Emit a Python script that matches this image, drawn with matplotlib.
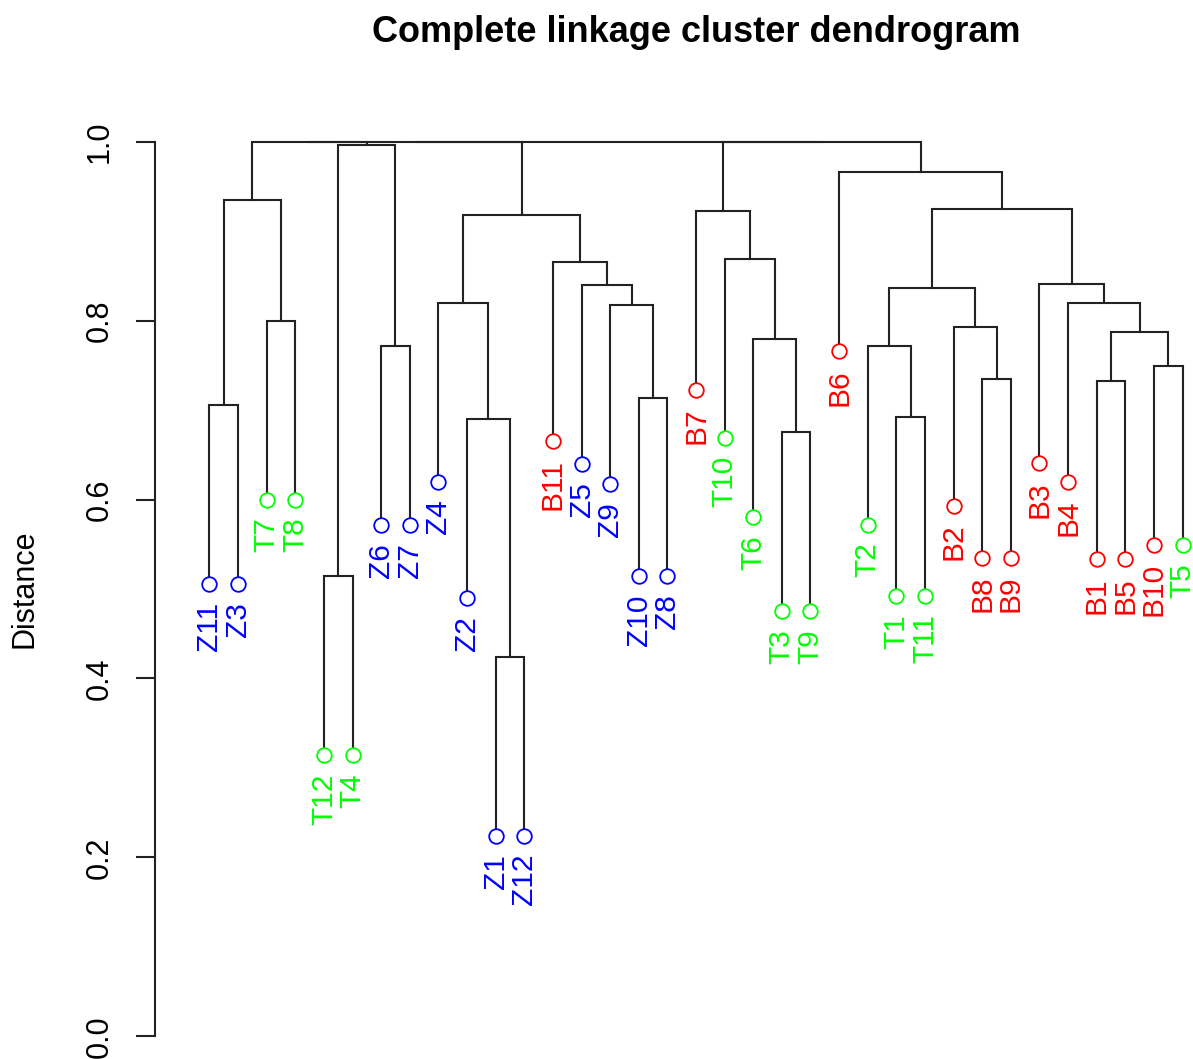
import matplotlib.pyplot as plt

plt.rcParams['font.family'] = ['Liberation Sans', 'DejaVu Sans']

# leaf order as it appears along the x axis
leaves = ["Z11", "Z3", "T7", "T8", "T12", "T4", "Z6", "Z7", "Z4", "Z2",
          "Z1", "Z12", "B11", "Z5", "Z9", "Z10", "Z8", "B7", "T10", "T6",
          "T3", "T9", "B6", "T2", "T1", "T11", "B2", "B8", "B9", "B3",
          "B4", "B1", "B5", "B10", "T5"]

# merge table: a name is a leaf, a number is an earlier merge (1-based)
merge_left = ["Z11", "T7", 1, "T12", "Z6", 4, "Z1", "Z2", "Z4", "Z10",
              "Z9", "Z5", "B11", 9, "T3", "T6", "T10", "B7", "T1", "T2",
              "B8", "B2", 20, "B1", "B10", 24, "B4", "B3", 23, "B6",
              3, 31, 18, 32]
merge_right = ["Z3", "T8", 2, "T4", "Z7", 5, "Z12", 7, 8, "Z8",
               10, 11, 12, 13, "T9", 15, 16, 17, "T11", 19,
               "B9", 21, 22, "B5", "T5", 25, 26, 27, 28, 29,
               6, 14, 30, 33]
merge_height = [0.706, 0.800, 0.935, 0.514, 0.772, 0.996, 0.424, 0.690, 0.820, 0.714,
                0.817, 0.840, 0.866, 0.918, 0.675, 0.780, 0.869, 0.923, 0.692, 0.772,
                0.735, 0.793, 0.837, 0.733, 0.749, 0.787, 0.820, 0.841, 0.925, 0.966,
                1.0, 1.0, 1.0, 1.0]

group_colors = {"Z": "#0000FF", "T": "#00FF00", "B": "#FF0000"}
HANG = 0.2

fig = plt.figure(figsize=(11.93, 10.59), dpi=100)
ax = fig.add_axes([155 / 1193, -13 / 1059, 1082 / 1193, 966 / 1059])

leaf_x = {name: i + 1 for i, name in enumerate(leaves)}
node_x = []
node_h = []
leaf_pts = []

for a, b, h in zip(merge_left, merge_right, merge_height):
    ends = []
    for c in (a, b):
        if isinstance(c, str):
            x, ch = leaf_x[c], h - HANG
            leaf_pts.append((c, x, ch))
        else:
            x, ch = node_x[c - 1], node_h[c - 1]
        ends.append((x, ch))
    (xa, ha), (xb, hb) = ends
    ax.plot([xa, xa, xb, xb], [ha, h, h, hb], color="#222222", lw=1.5,
            solid_joinstyle="miter", zorder=2)
    node_x.append((xa + xb) / 2)
    node_h.append(h)

for name, x, y in leaf_pts:
    col = group_colors[name[0]]
    ax.plot(x, y, "o", mfc="white", mec=col, ms=10.5, mew=1.3, zorder=3)
    ax.annotate(name, (x, y), xytext=(0, -13), textcoords="offset points",
                rotation=90, ha="center", va="top", color=col, fontsize=21.5)

ax.set_xlim(-0.9, 36.9)
ax.set_ylim(-0.04, 1.04)
for s in ("top", "right", "bottom"):
    ax.spines[s].set_visible(False)
ax.spines["left"].set_bounds(0, 1)
ax.spines["left"].set_linewidth(1.5)
ax.spines["left"].set_color("#222222")
ax.set_xticks([])
ax.set_yticks([0.0, 0.2, 0.4, 0.6, 0.8, 1.0])
ax.set_yticklabels(["0.0", "0.2", "0.4", "0.6", "0.8", "1.0"],
                   rotation=90, va="center", fontsize=22)
ax.tick_params(axis="y", direction="out", length=14, width=1.5,
               color="#222222", pad=15)
ax.set_ylabel("Distance", fontsize=22)
ax.yaxis.set_label_coords(-0.121, 0.5)
ax.yaxis.label.set_va("center")
ax.set_title("Complete linkage cluster dendrogram", fontsize=26,
             fontweight="bold", pad=46)
ax.patch.set_alpha(0)

fig.savefig("out.png", dpi=100)
